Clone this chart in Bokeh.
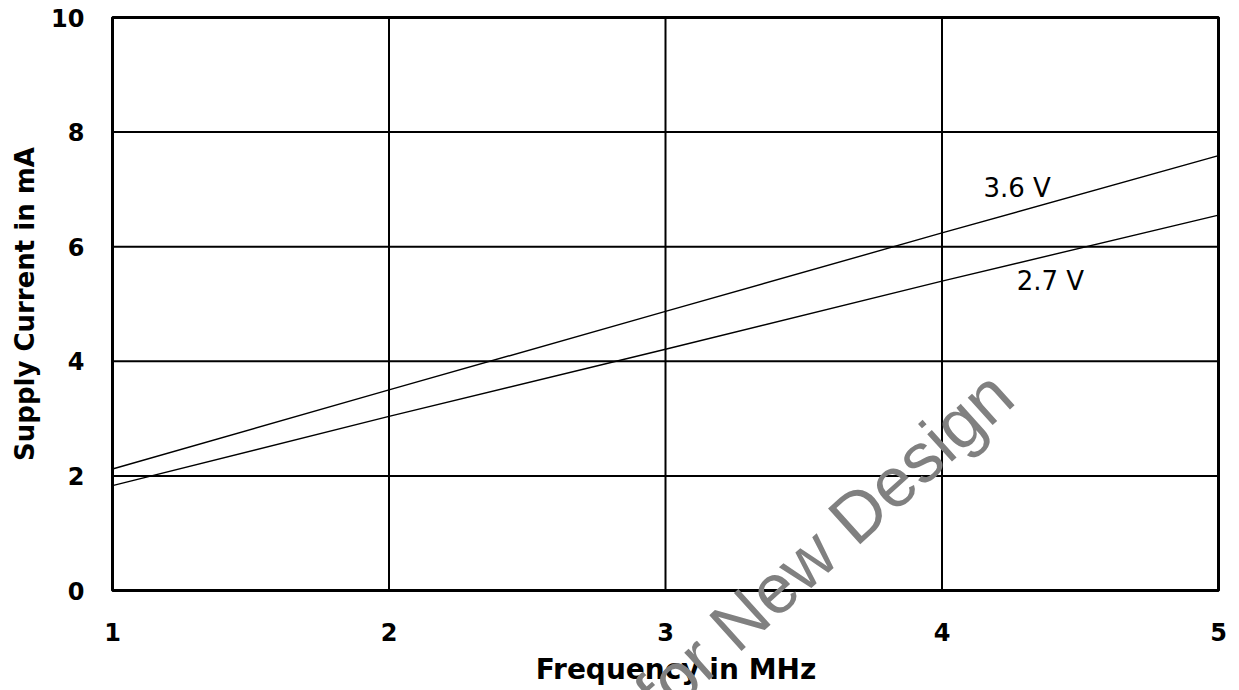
from bokeh.plotting import figure
from bokeh.models import Range1d, FixedTicker, Label
from bokeh.embed import file_html
from bokeh.resources import INLINE

# ---- data ----
freq_mhz = [1, 2, 3, 4, 5]
current_3v6 = [2.12, 3.50, 4.87, 6.24, 7.59]
current_2v7 = [1.83, 3.04, 4.21, 5.40, 6.55]
series_names = ["3.6 V", "2.7 V"]
x_ticks = [1, 2, 3, 4, 5]
y_ticks = [0, 2, 4, 6, 8, 10]
x_title = "Frequency in MHz"
y_title = "Supply Current in mA"
watermark = "for New Design"

# page layout (pixels): plot box 112..1218 horizontally, 17..590 vertically
W, H = 1239, 690
BOX_L, BOX_R, BOX_T, BOX_B = 112, 1218, 17, 590
xmin, xmax = x_ticks[0], x_ticks[-1]
ymin, ymax = y_ticks[0], y_ticks[-1]
ppx = (BOX_R - BOX_L) / (xmax - xmin)
ppy = (BOX_B - BOX_T) / (ymax - ymin)

# the frame spans the whole canvas so the watermark is not cut at the axes;
# the axes are pinned at x=1 / y=0
p = figure(width=W, height=H,
           x_range=Range1d(xmin - BOX_L / ppx, xmax + (W - BOX_R) / ppx),
           y_range=Range1d(ymin - (H - BOX_B) / ppy, ymax + BOX_T / ppy),
           output_backend="svg", toolbar_location=None,
           min_border_left=0, min_border_right=0, min_border_top=0, min_border_bottom=0)

p.outline_line_color = None
p.background_fill_color = "white"
p.border_fill_color = "white"
p.xgrid.visible = False
p.ygrid.visible = False

# grid lines
n_x, n_y = len(x_ticks), len(y_ticks)
p.segment(x0=x_ticks, y0=[ymin] * n_x, x1=x_ticks, y1=[ymax] * n_x,
          line_color="black", line_width=2)
p.segment(x0=[xmin] * n_y, y0=y_ticks, x1=[xmax] * n_y, y1=y_ticks,
          line_color="black", line_width=2)
# plot box border
p.quad(left=[xmin], right=[xmax], bottom=[ymin], top=[ymax],
       fill_color=None, line_color="black", line_width=3)

p.xaxis.ticker = FixedTicker(ticks=x_ticks)
p.yaxis.ticker = FixedTicker(ticks=y_ticks)
p.xaxis.fixed_location = ymin
p.yaxis.fixed_location = xmin
p.xaxis.bounds = (xmin, xmax + 0.1)   # centres the title slightly right, as in the source
p.yaxis.bounds = (ymin, ymax)

for ax in (p.xaxis, p.yaxis):
    ax.axis_line_color = None
    ax.major_tick_line_color = None
    ax.minor_tick_line_color = None
    ax.major_label_text_font = "DejaVu Sans"
    ax.major_label_text_font_style = "bold"
    ax.major_label_text_font_size = "24px"
    ax.major_label_text_color = "black"
    ax.axis_label_text_font = "DejaVu Sans"
    ax.axis_label_text_font_style = "bold"
    ax.axis_label_text_color = "black"

p.xaxis.axis_label = x_title
p.yaxis.axis_label = y_title
p.xaxis.axis_label_text_font_size = "28px"
p.yaxis.axis_label_text_font_size = "26px"
p.xaxis.major_label_standoff = 26
p.yaxis.major_label_standoff = 22
p.xaxis.axis_label_standoff = 9
p.yaxis.axis_label_standoff = 8

p.line(freq_mhz, current_3v6, line_color="black", line_width=1.4)
p.line(freq_mhz, current_2v7, line_color="black", line_width=1.4)

p.add_layout(Label(x=4.15, y=7.02, text=series_names[0], text_font="DejaVu Sans",
                   text_font_size="26px", text_color="black",
                   text_align="left", text_baseline="alphabetic"))
p.add_layout(Label(x=4.27, y=5.41, text=series_names[1], text_font="DejaVu Sans",
                   text_font_size="26px", text_color="black",
                   text_align="left", text_baseline="alphabetic"))

# watermark
p.add_layout(Label(x=2.93, y=-1.99, text=watermark, angle=42, angle_units="deg",
                   text_font="Liberation Sans", text_font_size="70px",
                   text_color="#808080", text_align="left",
                   text_baseline="alphabetic", level="overlay"))

open("out.html", "w").write(file_html(p, INLINE))
